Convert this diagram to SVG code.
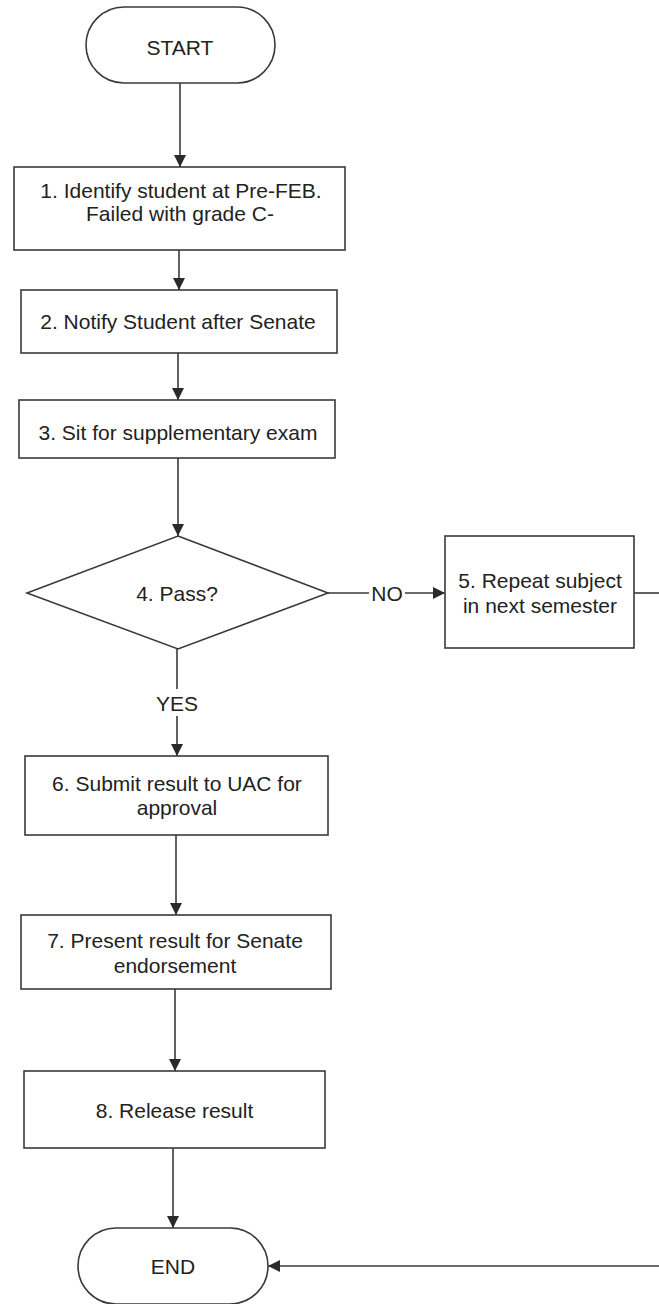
<svg xmlns="http://www.w3.org/2000/svg" width="659" height="1304" viewBox="0 0 659 1304">
<defs>
<style>
.shape{fill:#fff;stroke:#3a3a3a;stroke-width:1.6}
.t{font-family:"Liberation Sans",Arial,sans-serif;font-size:21px;fill:#222;text-anchor:middle}
.c{fill:none;stroke:#3a3a3a;stroke-width:1.6}
.lbl{font-family:"Liberation Sans",Arial,sans-serif;font-size:21px;fill:#222;text-anchor:middle}
</style>
<marker id="arr" viewBox="0 0 12 12" refX="12" refY="6" markerWidth="12" markerHeight="12" markerUnits="userSpaceOnUse" orient="auto">
<path d="M0,0 L12,6 L0,12 Z" fill="#2a2a2a"/>
</marker>
</defs>
<rect width="659" height="1304" fill="#fff"/>
<g id="connectors">
<line class="c" x1="180" y1="83" x2="180" y2="167" marker-end="url(#arr)"/>
<line class="c" x1="179" y1="250" x2="179" y2="290" marker-end="url(#arr)"/>
<line class="c" x1="178" y1="353" x2="178" y2="400" marker-end="url(#arr)"/>
<line class="c" x1="178" y1="458" x2="178" y2="536" marker-end="url(#arr)"/>
<line class="c" x1="328" y1="593" x2="369" y2="593"/>
<line class="c" x1="405" y1="593" x2="445" y2="593" marker-end="url(#arr)"/>
<text class="lbl" x="387" y="600.5">NO</text>
<line class="c" x1="634" y1="593" x2="659" y2="593"/>
<line class="c" x1="177" y1="649" x2="177" y2="689"/>
<line class="c" x1="177" y1="716" x2="177" y2="756" marker-end="url(#arr)"/>
<text class="lbl" x="177" y="710.5">YES</text>
<line class="c" x1="176" y1="835" x2="176" y2="915" marker-end="url(#arr)"/>
<line class="c" x1="175" y1="989" x2="175" y2="1071" marker-end="url(#arr)"/>
<line class="c" x1="173" y1="1148" x2="173" y2="1228" marker-end="url(#arr)"/>
<line class="c" x1="659" y1="1266" x2="268" y2="1266" marker-end="url(#arr)"/>
</g>
<g id="start">
<rect class="shape" x="86" y="7" width="189" height="76" rx="38" ry="38"/>
<text class="t" x="180" y="54.5">START</text>
</g>
<g id="step1">
<rect class="shape" x="14" y="167" width="331" height="83"/>
<text class="t" x="181" y="197.5">1. Identify student at Pre-FEB.</text>
<text class="t" x="180" y="221">Failed with grade C-</text>
</g>
<g id="step2">
<rect class="shape" x="21" y="290" width="316" height="63"/>
<text class="t" x="178" y="329">2. Notify Student after Senate</text>
</g>
<g id="step3">
<rect class="shape" x="19" y="400" width="316" height="58"/>
<text class="t" x="178" y="440">3. Sit for supplementary exam</text>
</g>
<g id="step4">
<polygon class="shape" points="178,536 328,593 178,649 27,593"/>
<text class="t" x="177" y="600.5">4. Pass?</text>
</g>
<g id="step5">
<rect class="shape" x="445" y="536" width="189" height="112"/>
<text class="t" x="540" y="587.5">5. Repeat subject</text>
<text class="t" x="540" y="612.5">in next semester</text>
</g>
<g id="step6">
<rect class="shape" x="25" y="756" width="303" height="79"/>
<text class="t" x="177" y="790.5">6. Submit result to UAC for</text>
<text class="t" x="177" y="814.5">approval</text>
</g>
<g id="step7">
<rect class="shape" x="21" y="915" width="310" height="74"/>
<text class="t" x="175" y="947.5">7. Present result for Senate</text>
<text class="t" x="175" y="972.5">endorsement</text>
</g>
<g id="step8">
<rect class="shape" x="24" y="1071" width="301" height="77"/>
<text class="t" x="174.5" y="1117.5">8. Release result</text>
</g>
<g id="end">
<rect class="shape" x="78" y="1228" width="190" height="76" rx="38" ry="38"/>
<text class="t" x="173" y="1273.5">END</text>
</g>
</svg>
